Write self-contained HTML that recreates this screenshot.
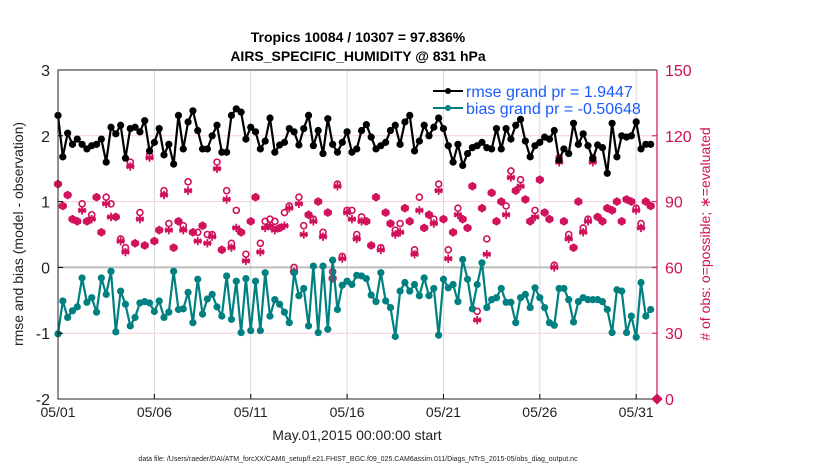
<!DOCTYPE html>
<html><head><meta charset="utf-8"><style>
body{margin:0;background:#fff;}
svg{display:block;font-family:"Liberation Sans",Arial,sans-serif;}
</style></head><body>
<svg id="chart" width="830" height="470" viewBox="0 0 830 470">
<g id="grid"></g><g id="marks"></g><g id="axes"></g>
<text x="358" y="42" text-anchor="middle" font-size="14" font-weight="bold">Tropics 10084 / 10307 = 97.836%</text>
<text x="358" y="61" text-anchor="middle" font-size="14" font-weight="bold">AIRS_SPECIFIC_HUMIDITY @ 831 hPa</text>
<text x="357" y="440" text-anchor="middle" font-size="14" fill="#222">May.01,2015 00:00:00 start</text>
<text transform="translate(23,234) rotate(-90)" text-anchor="middle" font-size="14" fill="#222">rmse and bias (model - observation)</text>
<text transform="translate(710,234) rotate(-90)" text-anchor="middle" font-size="14" fill="#d0105a"># of obs: o=possible; ∗=evaluated</text>
<text x="358" y="461" text-anchor="middle" font-size="7" fill="#222">data file: /Users/raeder/DAI/ATM_forcXX/CAM6_setup/f.e21.FHIST_BGC.f09_025.CAM6assim.011/Diags_NTrS_2015-05/obs_diag_output.nc</text>
<g>
<line x1="433" y1="91" x2="463" y2="91" stroke="#000" stroke-width="2"/><circle cx="448" cy="91" r="3" fill="#000"/>
<text x="466" y="97" font-size="16" fill="#1a5cff">rmse grand pr = 1.9447</text>
<line x1="433" y1="108" x2="463" y2="108" stroke="#008080" stroke-width="2"/><circle cx="448" cy="108" r="3" fill="#008080"/>
<text x="466" y="114" font-size="16" fill="#1a5cff">bias grand pr = -0.50648</text>
</g>
</svg>
<script>
const rmse=[2.31,1.68,2.04,1.87,1.95,1.87,1.8,1.85,1.87,1.95,1.6,2.13,2.03,2.16,1.66,2.11,2.13,2.06,2.23,1.77,1.9,2.11,1.71,1.87,1.57,2.31,1.8,2.21,2.38,2.08,1.8,1.8,
2.0,2.16,1.75,1.75,2.31,2.41,2.36,1.95,2.13,2.06,1.8,1.92,2.27,1.75,1.86,1.9,2.11,2.06,1.86,2.11,2.31,1.85,2.08,1.73,2.26,1.87,1.75,1.9,2.06,1.75,1.8,
2.08,2.17,1.98,1.8,1.85,1.9,2.08,2.16,1.87,2.21,2.31,1.77,1.92,2.16,2.0,2.13,2.27,2.11,1.85,1.6,1.87,1.55,1.73,1.82,1.85,1.9,1.82,1.8,2.11,1.8,2.11,
1.95,2.16,2.25,1.92,1.68,1.85,1.9,1.98,1.95,2.08,1.63,1.8,1.73,2.19,1.87,2.03,1.85,1.65,1.86,1.82,1.43,2.19,1.68,2.0,1.98,2.0,2.21,1.8,1.87,1.87];
const bias=[-1.01,-0.51,-0.76,-0.66,-0.6,-0.16,-0.53,-0.46,-0.68,-0.16,-0.41,-0.06,-0.98,-0.36,-0.56,-0.89,-0.76,-0.54,-0.52,-0.54,-0.67,-0.51,-0.76,-0.68,-0.06,-0.64,-0.63,-0.38,-0.84,-0.18,-0.71,-0.48,
-0.41,-0.6,-0.74,-0.13,-0.79,-0.21,-0.99,-0.17,-0.96,-0.21,-0.96,-0.08,-0.74,-0.49,-0.56,-0.68,-0.84,-0.08,-0.43,-0.32,-0.89,0.02,-0.99,0.02,-0.94,0.11,-0.64,-0.27,-0.21,-0.26,-0.12,
-0.13,-0.17,-0.42,-0.52,-0.08,-0.51,-0.61,-1.05,-0.36,-0.23,-0.36,-0.26,-0.43,-0.16,-0.43,-0.32,-1.03,-0.18,-0.31,-0.26,-0.52,0.12,-0.18,-0.63,-0.26,0.07,-0.61,-0.49,-0.46,-0.32,-0.53,
-0.53,-0.84,-0.46,-0.41,-0.61,-0.31,-0.46,-0.61,-0.84,-0.88,-0.32,-0.32,-0.49,-0.83,-0.52,-0.46,-0.49,-0.49,-0.49,-0.52,-0.64,-0.99,-0.34,-0.36,-0.99,-0.74,-1.06,-0.23,-0.74,-0.64];
const evaluated=[98,88,93,82,81,86,81,82,92,76,89,83,83,72,67,106,71,82,70,110,72,77,93,77,69,81,77,95,76,72,79,71,
74,105,68,91,69,78,76,63,81,92,67,78,79,77,78,79,87,58,89,75,84,81,90,74,85,55,97,64,85,82,73,
81,81,70,92,68,85,80,75,76,87,81,66,86,78,84,80,95,82,64,76,84,82,78,97,36,87,66,94,81,90,84,
101,95,97,91,81,83,100,85,82,60,108,81,73,69,90,76,81,108,83,81,87,86,90,81,91,90,86,78,90,88];
const possible=[98,88,93,82,81,89,81,84,92,76,92,89,83,73,69,108,71,85,70,111,72,77,95,80,69,81,79,99,76,76,79,75,
75,108,68,95,71,86,76,66,81,92,71,81,82,81,78,85,88,60,92,79,84,82,90,76,85,58,98,65,86,86,75,
83,81,70,92,69,85,80,77,80,87,81,68,92,78,84,82,98,82,68,76,87,82,78,97,40,87,73,94,81,90,88,
104,95,100,91,81,86,100,85,82,61,110,81,75,69,90,78,82,110,83,81,87,86,90,81,91,90,87,80,90,88];
const xTickLabels=["05/01","05/06","05/11","05/16","05/21","05/26","05/31"];
const xTickDays=[0,5,10,15,20,25,30];
const yTicks=[3,2,1,0,-1,-2];
const rTicks=[150,120,90,60,30,0];

const X0=58,X1=657,Y0=70,Y1=399,DMAX=31.08;
const xs=d=>X0+(d/DMAX)*(X1-X0);
const ys=v=>Y1-(v+2)/5*(Y1-Y0);
const yr=v=>Y1-v/150*(Y1-Y0);
const NS="http://www.w3.org/2000/svg";
function mk(tag,attrs,parent){const e=document.createElementNS(NS,tag);for(const k in attrs)e.setAttribute(k,attrs[k]);parent.appendChild(e);return e;}
const grid=document.getElementById('grid'),marks=document.getElementById('marks'),axes=document.getElementById('axes');

xTickDays.forEach((d,i)=>{
 const g=mk('line',{x1:xs(d),x2:xs(d),y1:Y0,y2:Y1,stroke:'#d8d8d8','stroke-width':1},grid);
 
 
 const t=mk('line',{x1:xs(d),x2:xs(d),y1:Y1,y2:Y1-5,stroke:'#000'},axes);
 
 
 const l=mk('text',{x:xs(d),y:Y1+18,'text-anchor':'middle','font-size':14,fill:'#222'},axes);
 l.textContent=xTickLabels[i];
 
 
});
rTicks.forEach(v=>{
 if(v>0&&v<150){const g=mk('line',{x1:X0,x2:X1,y1:yr(v),y2:yr(v),stroke:'#f5cfdc','stroke-width':1},grid);
 
 }
 const t=mk('line',{x1:X1,x2:X1-5,y1:yr(v),y2:yr(v),stroke:'#d0105a'},axes);
 
 
 const l=mk('text',{x:X1+8,y:yr(v)+6,'font-size':16,fill:'#d0105a'},axes);
 l.textContent=v;
 
 
});
const z=mk('line',{x1:X0,x2:X1,y1:ys(0),y2:ys(0),stroke:'#bbb','stroke-width':2},grid);


yTicks.forEach(v=>{
 const t=mk('line',{x1:X0,x2:X0+5,y1:ys(v),y2:ys(v),stroke:'#000'},axes);
 
 
 const l=mk('text',{x:X0-8,y:ys(v)+6,'text-anchor':'end','font-size':16,fill:'#222'},axes);
 l.textContent=v;
 
 
});
const fr=mk('path',{d:`M${X1},${Y0} H${X0} V${Y1} H${X1}`,fill:'none',stroke:'#222','stroke-width':1},axes);


const ra=mk('line',{x1:X1,x2:X1,y1:Y0,y2:Y1,stroke:'#d0105a','stroke-width':1.2},axes);


const dm=mk('rect',{x:X1-4,y:Y1-4,width:8,height:8,fill:'#d0105a',transform:`rotate(45 ${X1} ${Y1})`},axes);



const day=i=>i*0.25;
possible.forEach((v,i)=>{
 const c=mk('circle',{cx:xs(day(i)),cy:yr(v),r:3,fill:'none',stroke:'#d0105a','stroke-width':1.6},marks);
 
 
});
evaluated.forEach((v,i)=>{
 const cx=xs(day(i)),cy=yr(v),r=4.2;
 let d='';
 [90,30,150].forEach(a=>{const dx=r*Math.cos(a*Math.PI/180),dy=r*Math.sin(a*Math.PI/180);d+=`M${cx-dx},${cy-dy}L${cx+dx},${cy+dy}`;});
 d+=`M${cx-r},${cy}L${cx+r},${cy}`;
 const p=mk('path',{d:d,stroke:'#d0105a','stroke-width':1.8,fill:'none'},marks);
 
 
});
function series(arr,color,name){
 const p=mk('polyline',{points:arr.map((v,i)=>xs(day(i))+','+ys(v)).join(' '),fill:'none',stroke:color,'stroke-width':2.2},marks);
 
 
 arr.forEach((v,i)=>{
  const c=mk('circle',{cx:xs(day(i)),cy:ys(v),r:3.6,fill:color},marks);
  
  
 });
}
series(rmse,'#000','rmse');
series(bias,'#008080','bias');
</script>
</body></html>
